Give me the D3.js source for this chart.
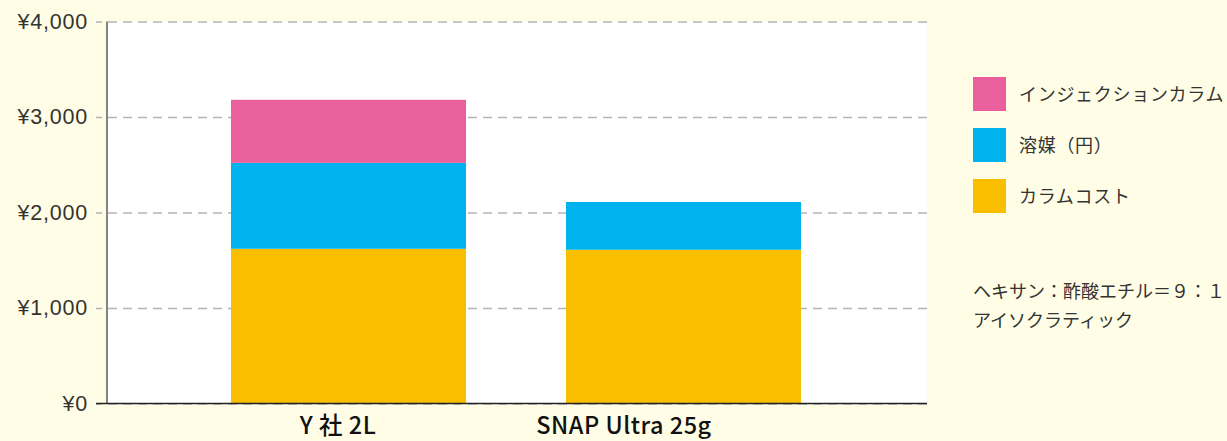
<!DOCTYPE html>
<html>
<head>
<meta charset="utf-8">
<title>カラムコスト比較</title>
<script src="https://cdn.jsdelivr.net/npm/d3@7"></script>
<style>
  html, body { margin: 0; padding: 0; background: #fffde5; }
  svg { display: block; font-family: "Noto Sans CJK JP", "Noto Sans", sans-serif; }
</style>
</head>
<body>
<script>
// data
var categories = ['Y 社 2L', 'SNAP Ultra 25g']
var columnCost = [1620, 1610]
var solvent = [900, 500]
var injection = [660, 0]
var seriesNames = ['カラムコスト', '溶媒（円）', 'インジェクションカラム']
var seriesColors = ['#f9be00', '#00b3ee', '#e9609d']
var yTicks = [0, 1000, 2000, 3000, 4000]
var noteLines = ['ヘキサン：酢酸エチル＝９：１', 'アイソクラティック']

var W = 1227, H = 441
var plot = { left: 107, right: 927, top: 21.5, bottom: 403.5 }

var rows = categories.map(function (c, i) {
    var r = { cat: c }
    r[seriesNames[0]] = columnCost[i]
    r[seriesNames[1]] = solvent[i]
    r[seriesNames[2]] = injection[i]
    return r
})
var stacked = d3.stack().keys(seriesNames)(rows)

var svg = d3.select('body').append('svg')
    .attr('width', W)
    .attr('height', H)

// plot area
svg.append('rect')
    .attr('x', plot.left).attr('y', plot.top)
    .attr('width', plot.right - plot.left)
    .attr('height', plot.bottom - plot.top)
    .attr('fill', '#fff')

var yScale = d3.scaleLinear().domain([0, 4000]).range([plot.bottom, plot.top])

var xScale = d3.scaleBand()
    .domain(categories)
    .range([131, 901])
    .padding(0.2985)

var xLabel = d3.scalePoint().domain(categories).range([338, 624])

// grid + y labels
var yAxis = d3.axisLeft(yScale)
    .tickValues(yTicks)
    .tickSize(plot.right - 96)
    .tickPadding(8)
    .tickFormat(function (d) { return '¥' + d3.format(',')(d) })

var gy = svg.append('g')
    .attr('transform', 'translate(' + plot.right + ',0)')
    .call(yAxis)
gy.select('.domain').remove()
gy.selectAll('.tick line')
    .attr('stroke', '#b4b4b4')
    .attr('stroke-width', 1.5)
    .attr('stroke-dasharray', '9,6')
gy.selectAll('.tick text')
    .attr('fill', '#333')
    .style('font-size', '21.5px')
    .style('letter-spacing', '0.8px')

// bars
svg.append('g').selectAll('g')
    .data(stacked)
    .enter().append('g')
    .attr('fill', function (d, i) { return seriesColors[i] })
    .selectAll('rect')
    .data(function (d) { return d })
    .enter().append('rect')
    .attr('x', function (d) { return xScale(d.data.cat) })
    .attr('width', xScale.bandwidth())
    .attr('y', function (d) { return yScale(d[1]) })
    .attr('height', function (d) { return yScale(d[0]) - yScale(d[1]) })

// axis lines
svg.append('line')
    .attr('x1', plot.left).attr('x2', plot.left)
    .attr('y1', plot.top).attr('y2', plot.bottom)
    .attr('stroke', '#333').attr('stroke-width', 1.2)
svg.append('line')
    .attr('x1', 96).attr('x2', plot.right)
    .attr('y1', plot.bottom).attr('y2', plot.bottom)
    .attr('stroke', '#222').attr('stroke-width', 1.3)

// x labels
svg.append('g').selectAll('text')
    .data(categories)
    .enter().append('text')
    .attr('x', function (d) { return xLabel(d) })
    .attr('y', 434)
    .attr('text-anchor', 'middle')
    .attr('fill', '#111')
    .style('font-size', '23.5px')
    .style('font-weight', 500)
    .style('letter-spacing', '0.5px')
    .text(function (d) { return d })

// legend (top to bottom: reverse of stack)
var legendItems = seriesNames.slice().reverse()
var legendColors = seriesColors.slice().reverse()
var legend = svg.append('g').selectAll('g')
    .data(legendItems)
    .enter().append('g')
    .attr('transform', function (d, i) { return 'translate(973,' + (77 + i * 51) + ')' })
legend.append('rect')
    .attr('width', 33).attr('height', 34)
    .attr('fill', function (d, i) { return legendColors[i] })
legend.append('text')
    .attr('x', 46).attr('y', 18)
    .attr('dy', '0.35em')
    .attr('fill', '#333')
    .style('font-size', '18px')
    .style('letter-spacing', '0.7px')
    .text(function (d) { return d })

// note
svg.append('g').selectAll('text')
    .data(noteLines)
    .enter().append('text')
    .attr('x', 973)
    .attr('y', function (d, i) { return 292 + i * 29 })
    .attr('dy', '0.35em')
    .attr('fill', '#333')
    .style('font-size', '18px')
    .text(function (d) { return d })
</script>
</body>
</html>
